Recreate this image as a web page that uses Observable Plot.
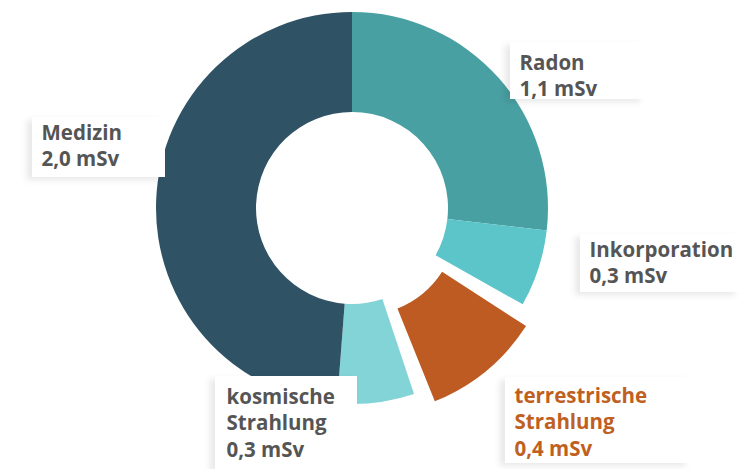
<!DOCTYPE html>
<html>
<head>
<meta charset="utf-8">
<script src="https://cdn.jsdelivr.net/npm/d3@7"></script>
<script src="https://cdn.jsdelivr.net/npm/@observablehq/plot@0.6"></script>
<style>
  html, body { margin: 0; padding: 0; background: #ffffff; }
  #chart svg { display: block; }
</style>
</head>
<body>
<div id="chart"></div>
<script>
// ---------- data ----------
const categories = ["Radon", "Inkorporation", "terrestrische Strahlung", "kosmische Strahlung", "Medizin"];
const nameLines  = [["Radon"], ["Inkorporation"], ["terrestrische", "Strahlung"], ["kosmische", "Strahlung"], ["Medizin"]];
const values     = [1.1, 0.3, 0.4, 0.3, 2.0];
const valueLabels = ["1,1 mSv", "0,3 mSv", "0,4 mSv", "0,3 mSv", "2,0 mSv"];
const explodedCategory = "terrestrische Strahlung";

// ---------- styles ----------
const sliceColors = ["#49a0a2", "#5cc5c9", "#bd5b22", "#83d4d6", "#2f5265"];
const textColors  = ["#555555", "#555555", "#c0601f", "#555555", "#555555"];

// ---------- layout (pixels) ----------
const W = 740, H = 469;
const CX = 352, CY = 208;        // donut centre
const R_OUT = 196, R_IN = 96;    // radii
const EXPLODE = 15;              // offset of the highlighted slice
const GAP = 3.5 * Math.PI / 180; // trim of neighbours next to the highlighted slice
const LINE_STEP = 26.5;
const labelPos = [               // text left, first baseline
  {x: 519, y: 69},
  {x: 589, y: 256},
  {x: 514, y: 402},
  {x: 226, y: 403},
  {x: 41,  y: 139}
];
const labelBoxes = [             // white label cards
  {x1: 510, y1: 42,  x2: 645, y2: 99},
  {x1: 580, y1: 234, x2: 740, y2: 292},
  {x1: 505, y1: 377, x2: 690, y2: 463},
  {x1: 215, y1: 376, x2: 357, y2: 469},
  {x1: 32,  y1: 117, x2: 165, y2: 177}
];

// ---------- derived tables ----------
const slices = categories.map((c, i) => ({category: c, value: values[i], color: sliceColors[i]}));

const textRows = [];
categories.forEach((c, i) => {
  const lines = [...nameLines[i], valueLabels[i]];
  lines.forEach((t, j) => textRows.push({
    category: c,
    text: t,
    x: labelPos[i].x - CX,
    y: labelPos[i].y + j * LINE_STEP - CY,
    color: textColors[i]
  }));
});
const boxes = labelBoxes.map(b => ({x1: b.x1 - CX, x2: b.x2 - CX, y1: b.y1 - CY, y2: b.y2 - CY}));

// ---------- donut mark (rendered through the plot's x/y scales) ----------
function donut(index, scales) {
  const cx = scales.x(0), cy = scales.y(0);
  const ro = scales.x(R_OUT) - cx, ri = scales.x(R_IN) - cx;
  const arcs = d3.pie().sort(null).value(d => d.value)(slices);
  const ex = arcs.findIndex(a => a.data.category === explodedCategory);
  arcs.forEach((a, i) => {
    if (i === ex - 1) a.endAngle -= GAP;
    if (i === ex + 1) a.startAngle += GAP;
  });
  const arc = d3.arc().innerRadius(ri).outerRadius(ro);
  const g = d3.create("svg:g");
  g.selectAll("path")
    .data(arcs)
    .join("path")
    .attr("d", arc)
    .attr("fill", d => d.data.color)
    .attr("transform", (d, i) => {
      if (i !== ex) return `translate(${cx},${cy})`;
      const m = (d.startAngle + d.endAngle) / 2;
      return `translate(${cx + EXPLODE * Math.sin(m)},${cy - EXPLODE * Math.cos(m)})`;
    });
  return g.node();
}

const chart = Plot.plot({
  width: W,
  height: H,
  margin: 0,
  x: {domain: [-CX, W - CX], range: [0, W], axis: null},
  y: {domain: [-CY, H - CY], range: [0, H], axis: null},
  style: {background: "#ffffff", overflow: "visible"},
  marks: [
    donut,
    Plot.rect(boxes, {x1: "x1", x2: "x2", y1: "y1", y2: "y2", fill: "#ffffff", className: "card"}),
    Plot.text(textRows, {
      x: "x", y: "y", text: "text",
      fill: d => d.color,
      textAnchor: "start",
      lineAnchor: "bottom",
      fontSize: 20.5,
      fontWeight: 700,
      fontFamily: "'Open Sans', sans-serif"
    })
  ]
});

document.getElementById("chart").appendChild(chart);
d3.select(chart).selectAll(".card rect")
  .style("filter", "drop-shadow(-5px 3px 3px rgba(0,0,0,0.09))");
</script>
</body>
</html>
